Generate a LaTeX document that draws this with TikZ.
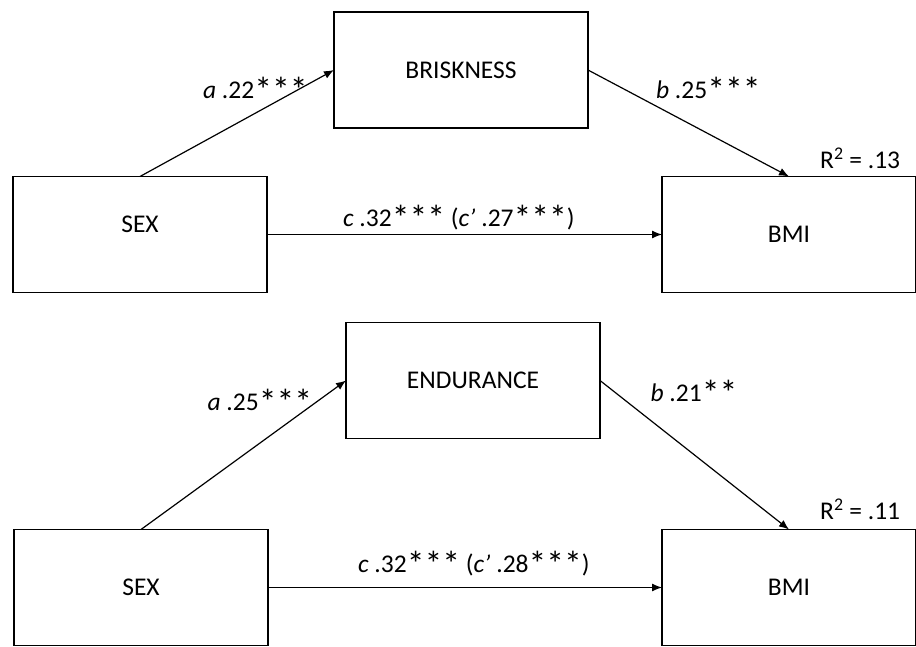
\documentclass[tikz,border=0pt]{standalone}
\usepackage{fontspec}
\setmainfont{Carlito}
\usetikzlibrary{positioning, arrows.meta}
\newcommand{\sig}{\raisebox{-4pt}{\scalebox{1.4}{*}}}
\begin{document}
\begin{tikzpicture}[x=1pt, y=-1pt,
        box/.style={draw, line width=1.2pt, minimum width=254pt, minimum height=116pt,
                inner sep=0pt, outer sep=0pt, font=\fontsize{25.5}{30}\selectfont},
        lbl/.style={font=\fontsize{25.5}{30}\selectfont, inner sep=0pt, anchor=base west},
        arr/.style={-{Latex[length=10pt, width=8pt]}, line width=1.2pt}]
    \useasboundingbox (0,0) rectangle (916,647);

    % Briskness model
    \node[box] (M1) at (461,70) {BRISKNESS};
    \node[box] (X1) at (140,234.5) {\raisebox{20pt}{SEX}};
    \node[box, label={[lbl, xshift=158pt, yshift=8pt]north west:R\textsuperscript{2} = .13}]
        (Y1) at (789,234.5) {BMI};
    \draw[arr] (X1.north) -- node[lbl, xshift=-34.5pt, yshift=25pt] {\textit{a} .22\sig\sig\sig} (M1.west);
    \draw[arr] (M1.east) -- node[lbl, xshift=-33pt, yshift=25pt] {\textit{b} .25\sig\sig\sig} (Y1.north);
    \draw[arr] (X1.east) -- node[lbl, xshift=-122pt, yshift=7.5pt]
        {\textit{c} .32\sig\sig\sig{} (\textit{c’} .27\sig\sig\sig)} (Y1.west);

    % Endurance model
    \node[box] (M2) at (473,380.5) {ENDURANCE};
    \node[box] (X2) at (141,587.5) {SEX};
    \node[box, label={[lbl, xshift=158pt, yshift=10pt]north west:R\textsuperscript{2} = .11}]
        (Y2) at (789,587.5) {BMI};
    \draw[arr] (X2.north) -- node[lbl, xshift=-36.5pt, yshift=45pt] {\textit{a} .25\sig\sig\sig} (M2.west);
    \draw[arr] (M2.east) -- node[lbl, xshift=-44.5pt, yshift=54pt] {\textit{b} .21\sig\sig} (Y2.north);
    \draw[arr] (X2.east) -- node[lbl, xshift=-107.5pt, yshift=15.5pt]
        {\textit{c} .32\sig\sig\sig{} (\textit{c’} .28\sig\sig\sig)} (Y2.west);
\end{tikzpicture}
\end{document}
